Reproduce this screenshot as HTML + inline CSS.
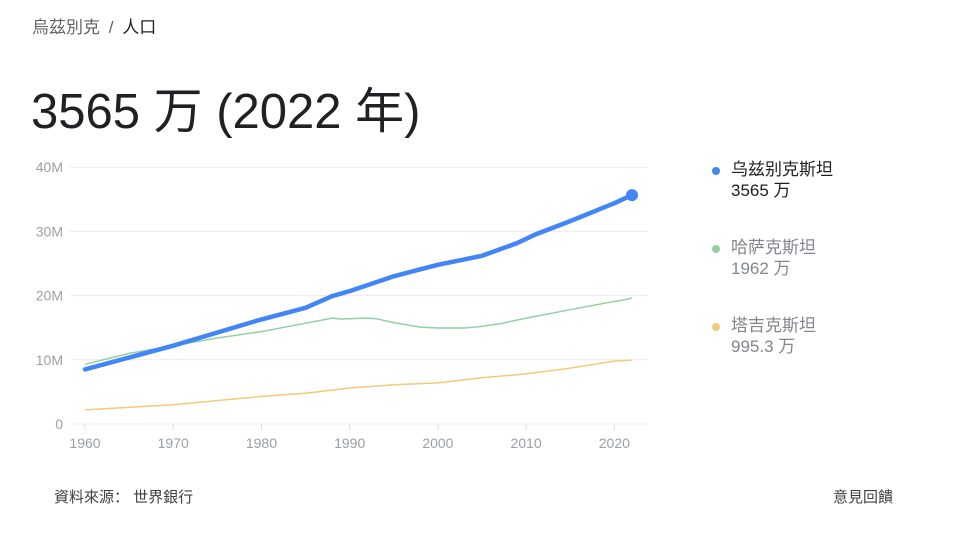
<!DOCTYPE html>
<html><head><meta charset="utf-8">
<style>
body{margin:0;width:960px;height:555px;background:#fff;font-family:"Liberation Sans","Noto Sans CJK SC",sans-serif;position:relative;overflow:hidden}
.abs{position:absolute;white-space:nowrap}
</style></head><body>
<div class="abs" style="left:32px;top:13px;font-size:17px;color:#5f6368">烏茲別克 <span style="margin:0 4px">/</span> <span style="color:#202124">人口</span></div>
<div class="abs" style="left:31px;top:72px;font-size:49px;color:#202124">3565 万 (2022 年)</div>
<svg class="abs" style="left:0;top:0" width="960" height="555">
<g id="grid"></g><g id="lines"></g>
</svg>
<div class="abs" style="left:710px;top:159px;font-size:17px;line-height:21px;color:#202124"><span style="position:absolute;left:2px;top:8px;width:8px;height:8px;border-radius:50%;background:#4285f4"></span><div style="margin-left:21px">乌兹别克斯坦<br>3565 万</div></div>
<div class="abs" style="left:710px;top:237px;font-size:17px;line-height:21px;color:#80868b"><span style="position:absolute;left:2px;top:8px;width:8px;height:8px;border-radius:50%;background:#93d0a4"></span><div style="margin-left:21px">哈萨克斯坦<br>1962 万</div></div>
<div class="abs" style="left:710px;top:315px;font-size:17px;line-height:21px;color:#80868b"><span style="position:absolute;left:2px;top:8px;width:8px;height:8px;border-radius:50%;background:#f5c97a"></span><div style="margin-left:21px">塔吉克斯坦<br>995.3 万</div></div>
<div class="abs" style="left:54px;top:486px;font-size:15px;color:#3c4043">資料來源：&nbsp;世界銀行</div>
<div class="abs" style="left:833px;top:486px;font-size:15px;color:#3c4043">意見回饋</div>
<script>
const yTicks=[0,10,20,30,40];
const yTickLabels=["0","10M","20M","30M","40M"];
const xTicks=[1960,1970,1980,1990,2000,2010,2020];
const uzbYears=[1960,1970,1980,1985,1988,1990,1995,1998,2000,2005,2008,2009,2011,2015,2020,2022];
const uzbVals=[8.5,12.2,16.3,18.1,19.9,20.7,23,24.1,24.8,26.2,27.7,28.2,29.5,31.6,34.4,35.65];
const kazYears=[1960,1965,1970,1975,1980,1985,1988,1989,1992,1993,1995,1998,2000,2003,2005,2007,2010,2015,2020,2021,2022];
const kazVals=[9.3,11,12.2,13.4,14.4,15.7,16.5,16.35,16.5,16.4,15.8,15.1,14.95,14.95,15.2,15.6,16.5,17.8,19.1,19.3,19.62];
const tjkYears=[1960,1970,1980,1985,1990,1995,2000,2005,2010,2015,2020,2022];
const tjkVals=[2.2,3.0,4.3,4.8,5.6,6.1,6.4,7.2,7.8,8.7,9.8,9.95];
const X=y=>85+(y-1960)*(632-85)/62;
const Y=v=>424-v*6.42;
const NS="http://www.w3.org/2000/svg";
function mk(t,a,p){const e=document.createElementNS(NS,t);for(const k in a)e.setAttribute(k,a[k]);p.appendChild(e);return e;}
const grid=document.getElementById('grid'),lines=document.getElementById('lines');
yTicks.forEach((v,i)=>{
 const l=mk('line',{x1:70,x2:648,y1:Y(v),y2:Y(v),stroke:'#ececec','stroke-width':1},grid);
 
 
 const t=mk('text',{x:63,y:Y(v)+5,'text-anchor':'end','font-size':14,fill:'#9aa0a6'},grid);
 t.textContent=yTickLabels[i];
 
 
});
xTicks.forEach(y=>{
 const tk=mk('line',{x1:X(y),x2:X(y),y1:424,y2:430,stroke:'#dadce0'},grid);
 
 
 const t=mk('text',{x:X(y),y:448,'text-anchor':'middle','font-size':14,fill:'#9aa0a6'},grid);
 t.textContent=y;
 
 
});
function path(xs,vs){return xs.map((y,i)=>(i?'L':'M')+X(y).toFixed(1)+','+Y(vs[i]).toFixed(1)).join('');}
const pt=mk('path',{d:path(tjkYears,tjkVals),fill:'none',stroke:'#f5c97a','stroke-width':1.5,'stroke-linejoin':'round'},lines);


const pk=mk('path',{d:path(kazYears,kazVals),fill:'none',stroke:'#93d0a4','stroke-width':1.5,'stroke-linejoin':'round'},lines);


const pu=mk('path',{d:path(uzbYears,uzbVals),fill:'none',stroke:'#4285f4','stroke-width':4.5,'stroke-linejoin':'round','stroke-linecap':'round'},lines);


const n=uzbYears.length-1;
const d=mk('circle',{cx:X(uzbYears[n]),cy:Y(uzbVals[n]),r:6,fill:'#4285f4'},lines);


</script>
</body></html>
